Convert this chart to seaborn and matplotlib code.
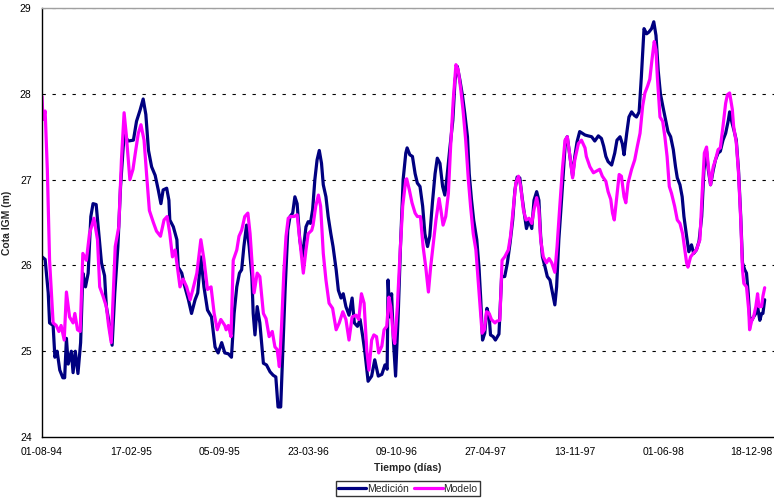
import pandas as pd
import matplotlib.pyplot as plt
import matplotlib.dates as mdates
import seaborn as sns

sns.set_style("white")
plt.rcParams['font.family'] = ['Liberation Sans', 'DejaVu Sans']

INICIO = pd.Timestamp("1994-08-01")

# Medicion: dias desde 01-08-94 y cota (m)
dias_med = [0, 7, 14, 17, 25, 29, 34, 40, 47, 51, 55, 59, 66, 70, 75, 81, 87, 92, 98, 104,
            110, 115, 122, 128, 134, 141, 145, 150, 158, 164, 171, 177, 183, 186, 194, 206, 213, 221, 228, 234,
            240, 247, 255, 262, 268, 273, 281, 286, 288, 296, 304, 307, 315, 322, 330, 337, 345, 351, 358, 365,
            373, 382, 390, 397, 405, 412, 420, 427, 433, 439, 445, 450, 455, 461, 467, 473, 476, 480, 485, 491,
            499, 506, 514, 521, 527, 532, 538, 542, 548, 554, 559, 565, 570, 575, 581, 587, 595, 600, 605, 610,
            615, 620, 625, 630, 634, 640, 645, 651, 656, 663, 668, 674, 679, 685, 692, 699, 704, 711, 717, 723,
            728, 735, 743, 750, 758, 766, 773, 778, 780, 784, 788, 792, 797, 803, 808, 814, 820, 823, 829, 835,
            841, 846, 852, 858, 863, 869, 874, 880, 886, 891, 897, 903, 908, 913, 919, 926, 931, 936, 942, 948,
            953, 959, 963, 968, 973, 980, 985, 989, 993, 998, 1003, 1008, 1011, 1017, 1022, 1030, 1036, 1043, 1049, 1055,
            1061, 1066, 1071, 1077, 1082, 1087, 1092, 1098, 1104, 1109, 1115, 1120, 1124, 1128, 1134, 1139, 1145, 1151, 1156, 1160,
            1165, 1170, 1175, 1180, 1184, 1190, 1196, 1201, 1206, 1212, 1218, 1224, 1231, 1239, 1246, 1254, 1261, 1266, 1271, 1276,
            1284, 1291, 1296, 1303, 1308, 1312, 1318, 1323, 1329, 1335, 1340, 1346, 1351, 1357, 1363, 1368, 1374, 1379, 1384, 1389,
            1394, 1400, 1406, 1411, 1417, 1423, 1428, 1432, 1438, 1443, 1447, 1453, 1458, 1464, 1469, 1475, 1481, 1487, 1492, 1498,
            1502, 1507, 1513, 1518, 1524, 1529, 1535, 1541, 1547, 1550, 1555, 1560, 1565, 1570, 1575, 1579, 1584, 1588, 1592, 1595,
            1600, 1604, 1609, 1613, 1618, 1622, 1625, 1629]
cota_med = [26.10, 26.07, 25.68, 25.33, 25.30, 24.93, 25.00, 24.78, 24.69, 24.69, 25.15, 24.85, 25.00, 24.75, 25.00, 24.74, 25.10, 25.91, 25.75, 25.91,
            26.57, 26.72, 26.71, 26.37, 26.03, 25.88, 25.52, 25.37, 25.07, 25.68, 26.22, 26.92, 27.38, 27.52, 27.45, 27.46, 27.68, 27.81, 27.94, 27.76,
            27.34, 27.15, 27.05, 26.88, 26.72, 26.88, 26.90, 26.76, 26.53, 26.45, 26.30, 25.98, 25.91, 25.75, 25.60, 25.44, 25.60, 25.68, 26.10, 25.75,
            25.48, 25.40, 25.05, 24.98, 25.10, 24.98, 24.97, 24.93, 25.44, 25.75, 25.91, 25.95, 26.22, 26.47, 26.22, 25.87, 25.44, 25.19, 25.52, 25.33,
            24.86, 24.84, 24.76, 24.72, 24.70, 24.35, 24.35, 24.90, 25.72, 26.41, 26.57, 26.61, 26.80, 26.72, 26.30, 26.10, 26.45, 26.51, 26.49, 26.65,
            27.00, 27.23, 27.34, 27.19, 26.94, 26.80, 26.57, 26.37, 26.22, 25.95, 25.71, 25.62, 25.67, 25.52, 25.42, 25.62, 25.33, 25.29, 25.37, 25.17,
            24.98, 24.65, 24.71, 24.90, 24.71, 24.73, 24.84, 24.79, 25.83, 25.40, 25.67, 25.13, 24.71, 25.44, 26.22, 27.00, 27.31, 27.37, 27.29, 27.27,
            27.07, 26.96, 26.92, 26.69, 26.37, 26.22, 26.34, 26.73, 27.07, 27.25, 27.19, 26.92, 26.82, 27.04, 27.35, 27.69, 28.16, 28.32, 28.16, 27.97,
            27.77, 27.50, 27.07, 26.77, 26.53, 26.30, 25.98, 25.60, 25.13, 25.21, 25.50, 25.40, 25.19, 25.17, 25.13, 25.20, 25.87, 25.87, 26.03, 26.26,
            26.53, 26.88, 27.03, 27.02, 26.80, 26.61, 26.43, 26.53, 26.43, 26.76, 26.86, 26.76, 26.34, 26.10, 25.98, 25.87, 25.83, 25.67, 25.54, 25.75,
            26.30, 26.68, 27.08, 27.46, 27.50, 27.27, 27.04, 27.27, 27.44, 27.56, 27.54, 27.52, 27.51, 27.50, 27.45, 27.51, 27.48, 27.39, 27.27, 27.21,
            27.17, 27.31, 27.46, 27.50, 27.42, 27.29, 27.54, 27.73, 27.79, 27.75, 27.73, 27.79, 28.20, 28.76, 28.70, 28.72, 28.76, 28.84, 28.68, 28.27,
            28.00, 27.84, 27.69, 27.56, 27.50, 27.35, 27.15, 27.02, 26.94, 26.80, 26.57, 26.34, 26.16, 26.24, 26.14, 26.18, 26.28, 26.57, 27.11, 27.33,
            27.11, 26.94, 27.11, 27.23, 27.31, 27.33, 27.46, 27.54, 27.69, 27.79, 27.67, 27.57, 27.46, 27.11, 26.57, 26.03, 25.95, 25.91, 25.67, 25.40,
            25.36, 25.40, 25.44, 25.52, 25.36, 25.44, 25.44, 25.60]

# Modelo: dias desde 01-08-94 y cota (m)
dias_mod = [0, 2, 7, 12, 17, 25, 32, 38, 43, 50, 55, 62, 70, 74, 80, 86, 92, 100, 107, 117,
            125, 130, 137, 145, 150, 156, 165, 173, 179, 185, 190, 198, 205, 210, 217, 223, 230, 236, 242, 251,
            258, 267, 275, 282, 288, 294, 300, 305, 311, 318, 326, 334, 340, 349, 358, 365, 373, 381, 388, 395,
            403, 412, 415, 420, 426, 431, 439, 444, 450, 457, 464, 469, 474, 478, 485, 491, 499, 505, 512, 519,
            525, 530, 535, 540, 545, 550, 555, 560, 568, 575, 581, 589, 595, 600, 608, 611, 617, 623, 628, 634,
            640, 647, 655, 663, 670, 678, 685, 692, 699, 708, 714, 720, 726, 732, 737, 743, 748, 754, 759, 766,
            771, 777, 782, 786, 792, 795, 801, 807, 813, 820, 822, 828, 834, 841, 846, 853, 859, 865, 871, 876,
            882, 888, 895, 899, 904, 910, 916, 921, 927, 933, 938, 944, 949, 955, 961, 966, 972, 978, 983, 987,
            992, 997, 1002, 1008, 1013, 1021, 1025, 1032, 1037, 1043, 1051, 1056, 1062, 1068, 1074, 1079, 1085, 1091, 1098, 1104,
            1109, 1115, 1120, 1124, 1130, 1137, 1143, 1149, 1156, 1161, 1167, 1173, 1179, 1184, 1190, 1196, 1201, 1209, 1216, 1224,
            1227, 1235, 1243, 1250, 1257, 1263, 1271, 1276, 1282, 1286, 1290, 1295, 1301, 1306, 1312, 1316, 1321, 1329, 1336, 1342,
            1348, 1354, 1359, 1365, 1370, 1375, 1380, 1384, 1387, 1393, 1399, 1404, 1409, 1414, 1419, 1426, 1432, 1438, 1444, 1449,
            1453, 1456, 1462, 1468, 1475, 1483, 1488, 1493, 1498, 1502, 1507, 1513, 1518, 1524, 1529, 1535, 1541, 1545, 1550, 1556,
            1559, 1565, 1570, 1575, 1579, 1582, 1588, 1593, 1595, 1600, 1604, 1609, 1613, 1616, 1622, 1625, 1629]
cota_mod = [27.97, 27.70, 27.80, 27.11, 26.06, 25.33, 25.30, 25.23, 25.30, 25.13, 25.69, 25.40, 25.33, 25.44, 25.25, 25.23, 26.14, 26.06, 26.37, 26.55,
            26.30, 25.75, 25.65, 25.52, 25.30, 25.10, 26.22, 26.45, 27.23, 27.78, 27.52, 27.00, 27.12, 27.30, 27.54, 27.64, 27.46, 27.04, 26.64, 26.50,
            26.40, 26.34, 26.53, 26.57, 26.37, 26.10, 26.18, 25.98, 25.75, 25.84, 25.75, 25.60, 25.72, 25.91, 26.30, 26.07, 25.72, 25.75, 25.44, 25.25,
            25.37, 25.30, 25.25, 25.30, 25.17, 26.06, 26.18, 26.34, 26.41, 26.57, 26.61, 26.37, 25.98, 25.68, 25.91, 25.87, 25.44, 25.38, 25.17, 25.23,
            25.05, 25.02, 24.82, 25.30, 25.91, 26.34, 26.55, 26.57, 26.57, 26.59, 26.30, 25.91, 26.18, 26.37, 26.41, 26.47, 26.69, 26.82, 26.69, 26.14,
            25.83, 25.56, 25.50, 25.25, 25.33, 25.46, 25.37, 25.13, 25.40, 25.42, 25.37, 25.67, 25.56, 25.01, 24.78, 25.13, 25.19, 25.17, 24.98, 25.06,
            25.25, 25.29, 25.63, 25.52, 25.17, 25.09, 25.52, 26.14, 26.69, 27.00, 27.01, 26.88, 26.73, 26.61, 26.57, 26.57, 26.22, 25.98, 25.69, 25.98,
            26.26, 26.53, 26.78, 26.65, 26.47, 26.57, 26.84, 27.38, 27.93, 28.34, 28.28, 28.05, 27.81, 27.46, 27.00, 26.69, 26.37, 26.18, 25.83, 25.56,
            25.21, 25.25, 25.46, 25.44, 25.37, 25.33, 25.35, 25.36, 26.06, 26.10, 26.18, 26.34, 26.65, 26.96, 27.04, 26.92, 26.65, 26.53, 26.55, 26.49,
            26.65, 26.79, 26.65, 26.30, 26.10, 26.03, 26.08, 26.03, 25.92, 26.22, 26.68, 27.12, 27.46, 27.50, 27.27, 27.02, 27.23, 27.42, 27.46, 27.37,
            27.27, 27.15, 27.08, 27.10, 27.12, 27.04, 26.98, 26.86, 26.77, 26.61, 26.53, 26.77, 27.06, 27.04, 26.80, 26.73, 26.96, 27.12, 27.23, 27.39,
            27.54, 27.86, 28.01, 28.09, 28.17, 28.40, 28.61, 28.51, 28.20, 27.73, 27.68, 27.50, 27.27, 26.92, 26.84, 26.69, 26.53, 26.49, 26.37, 26.18,
            26.03, 25.98, 26.10, 26.14, 26.18, 26.30, 26.84, 27.31, 27.38, 27.15, 26.94, 27.15, 27.23, 27.35, 27.37, 27.62, 27.89, 27.99, 28.01, 27.82,
            27.62, 27.43, 27.08, 26.53, 25.95, 25.79, 25.75, 25.48, 25.25, 25.36, 25.40, 25.52, 25.67, 25.52, 25.52, 25.64, 25.74]

fecha_med = INICIO + pd.to_timedelta(dias_med, unit="D")
fecha_mod = INICIO + pd.to_timedelta(dias_mod, unit="D")
fechas_ticks = pd.date_range(INICIO, periods=9, freq="200D")

fig = plt.figure(figsize=(7.74, 5.03), dpi=100)
ax = fig.add_axes([0.0543, 0.1312, 0.9457, 0.8528])

sns.lineplot(x=fecha_med, y=cota_med, ax=ax, color="#000080", linewidth=2.3,
             label="Medición", estimator=None, sort=False, solid_joinstyle="round")
sns.lineplot(x=fecha_mod, y=cota_mod, ax=ax, color="#FF00FF", linewidth=2.3,
             label="Modelo", estimator=None, sort=False, solid_joinstyle="round")

ax.set_ylim(24, 29)
ax.set_yticks([24, 25, 26, 27, 28, 29])
ax.set_xlim(INICIO, INICIO + pd.Timedelta(days=1650))
ax.set_xticks(fechas_ticks)
ax.xaxis.set_major_formatter(mdates.DateFormatter("%d-%m-%y"))

for yv in [25, 26, 27, 28, 29]:
    ax.axhline(yv, color="black", linestyle=(0, (3, 6)), linewidth=0.8, zorder=0)

ax.spines["right"].set_visible(False)
ax.spines["top"].set_color("#a0a0a0")
ax.spines["top"].set_linewidth(1.0)
for s in ["left", "bottom"]:
    ax.spines[s].set_color("black")
    ax.spines[s].set_linewidth(1.0)

ax.tick_params(axis="both", direction="out", length=4, width=1, colors="black", labelsize=7.5)
ax.set_xlabel("Tiempo (días)", fontsize=7.5, fontweight="bold", labelpad=4)
ax.set_ylabel("Cota IGM (m)", fontsize=7.5, fontweight="bold", labelpad=6)

ax.legend_.remove()
handles, labels = ax.get_legend_handles_labels()
leg = fig.legend(handles, labels, loc="lower center", bbox_to_anchor=(0.527, 0.003), ncol=2,
                 frameon=True, fancybox=False, edgecolor="black", fontsize=7.5,
                 handlelength=2.7, handletextpad=0.1, columnspacing=0.5, borderpad=0.25)
leg.get_frame().set_linewidth(1.0)

fig.savefig("out.png", dpi=100)
